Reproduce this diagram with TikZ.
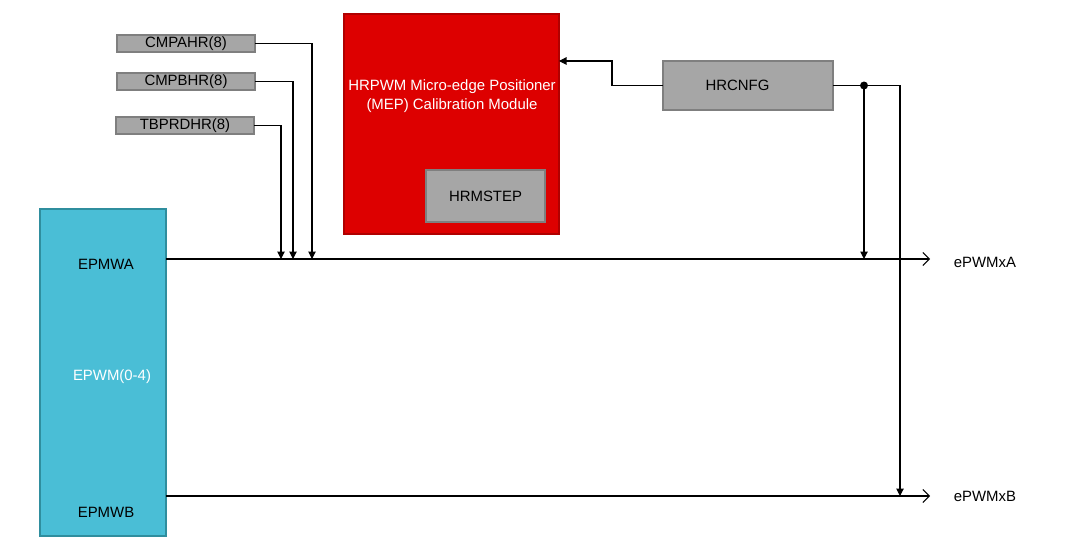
\documentclass[tikz,border=0pt]{standalone}
\usepackage{fontspec}
\setmainfont{Liberation Sans}
\usetikzlibrary{positioning,arrows.meta,calc}
\definecolor{regfill}{HTML}{A6A6A6}
\definecolor{regdraw}{HTML}{7F7F7F}
\definecolor{epwmfill}{HTML}{4ABED6}
\definecolor{epwmdraw}{HTML}{2F8E9E}
\definecolor{mepfill}{HTML}{DD0000}
\definecolor{mepdraw}{HTML}{B00000}

\begin{document}
\begin{tikzpicture}[x=0.02cm,y=-0.02cm,every node/.style={outer sep=0pt,font=\fontsize{8.5}{10.5}\selectfont},
		reg/.style={draw=regdraw,fill=regfill,line width=1.1pt,inner sep=0pt},
		wire/.style={line width=0.6pt},
		tip/.style={wire,-{Triangle[length=1.5mm,width=1.5mm]}},
		outp/.style={wire,-{Straight Barb[length=1.3mm,width=2.6mm]}},
		]
		\useasboundingbox (0,0) rectangle (1081,560);

		% register inputs
		\node[reg,minimum width=2.76cm,minimum height=0.34cm] (cmpahr) at (186,43.5) {CMPAHR(8)};
		\node[reg,minimum width=2.76cm,minimum height=0.34cm] (cmpbhr) at (186,81.5) {CMPBHR(8)};
		\node[reg,minimum width=2.76cm,minimum height=0.34cm] (tbprdhr) at (185,125.5) {TBPRDHR(8)};

		% ePWM block
		\node[draw=epwmdraw,fill=epwmfill,line width=1.1pt,minimum width=2.52cm,minimum height=6.54cm] (epwm) at (103,372.5) {};
		\node (epmwa) at (106,264) {EPMWA};
		\node[text=white] (epwmname) at (112,377) {EPWM(0-4)};
		\node (epmwb) at (106,512) {EPMWB};

		% MEP calibration module
		\node[draw=mepdraw,fill=mepfill,line width=0.9pt,minimum width=4.3cm,minimum height=4.4cm] (mep) at (451.5,124) {};
		\node[text=white,align=center] (meptext) at (452,96) {HRPWM Micro-edge Positioner\\(MEP) Calibration Module};
		\node[reg,minimum width=2.38cm,minimum height=1.04cm] (hrmstep) at (485.5,196) {HRMSTEP};

		\node[reg,minimum width=3.4cm,minimum height=0.98cm,text width=3.1cm,align=left] (hrcnfg) at (748,85.5) {\hspace*{0.7cm}HRCNFG};

		% outputs
		\coordinate (outA) at (930,259);
		\coordinate (outB) at (930,496);
		\node[right=0.36cm of outA,yshift=-2pt] (pwma) {ePWMxA};
		\node[right=0.36cm of outB] (pwmb) {ePWMxB};
		\draw[outp] (epwm.east|-outA) -- (outA);
		\draw[outp] (epwm.east|-outB) -- (outB);

		\coordinate (tapA) at (312,259);
		\coordinate (tapB) at (293,259);
		\coordinate (tapT) at (281,259);
		\draw[tip] (cmpahr.east) -| (tapA);
		\draw[tip] (cmpbhr.east) -| (tapB);
		\draw[tip] (tbprdhr.east) -| (tapT);

		\coordinate (mepin) at (559,61);
		\draw[tip] (hrcnfg.west) -- ++(-51,0) |- (mepin);

		\node[circle,fill,inner sep=1.6pt] (jn) at (864,85.5) {};
		\coordinate (tapH) at (864,259);
		\coordinate (tapHB) at (900,496);
		\draw[wire] (hrcnfg.east) -- (jn);
		\draw[tip] (jn) -- (tapH);
		\draw[tip] (jn) -| (tapHB);
\end{tikzpicture}
\end{document}
